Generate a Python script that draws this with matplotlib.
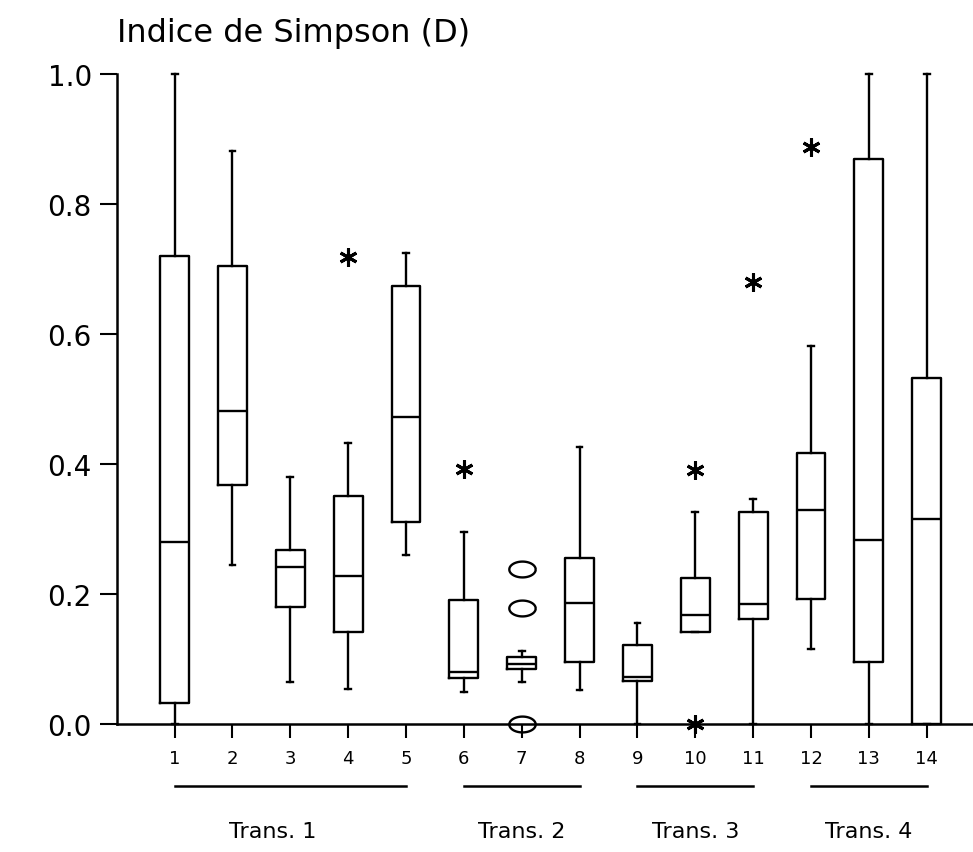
import numpy as np
import matplotlib
matplotlib.use("Agg")
import matplotlib.pyplot as plt

# box statistics (14 sampling sites)
sites = np.arange(1, 15)
whis_hi = [1.0, 0.882, 0.380, 0.432, 0.724, 0.296, 0.112, 0.427, 0.155, 0.326, 0.347, 0.581, 1.0, 1.0]
q3 = [0.720, 0.704, 0.268, 0.351, 0.674, 0.191, 0.103, 0.256, 0.121, 0.224, 0.326, 0.417, 0.870, 0.532]
med = [0.280, 0.482, 0.242, 0.228, 0.472, 0.080, 0.092, 0.186, 0.072, 0.168, 0.185, 0.329, 0.283, 0.315]
q1 = [0.033, 0.368, 0.180, 0.141, 0.311, 0.071, 0.084, 0.095, 0.066, 0.142, 0.162, 0.192, 0.095, 0.0]
whis_lo = [0.0, 0.245, 0.064, 0.054, 0.260, 0.049, 0.064, 0.052, 0.0, 0.142, 0.0, 0.115, 0.0, 0.0]

# extreme values (*) and outliers (o)
star_x = [4, 6, 10, 10, 11, 12]
star_y = [0.719, 0.393, 0.391, 0.0, 0.680, 0.888]
circ_x = [7, 7, 7]
circ_y = [0.238, 0.178, 0.0]

groups = ["Trans. 1", "Trans. 2", "Trans. 3", "Trans. 4"]
group_start = [1, 6, 9, 12]
group_end = [5, 8, 11, 14]
group_label_x = [2.7, 7, 10, 13]

stats = []
for i in range(len(sites)):
    stats.append(dict(med=med[i], q1=q1[i], q3=q3[i],
                      whislo=whis_lo[i], whishi=whis_hi[i], fliers=[]))

fig = plt.figure(figsize=(9.73, 8.53), dpi=100)
ax = fig.add_axes([0.120, 0.150, 0.880, 0.762])

lw = 1.7
bp = ax.bxp(stats, positions=sites, widths=0.5, showfliers=False,
            boxprops=dict(color="black", linewidth=lw),
            medianprops=dict(color="black", linewidth=lw),
            whiskerprops=dict(color="black", linewidth=lw),
            capprops=dict(color="black", linewidth=lw),
            capwidths=0.1, manage_ticks=False)
for k in bp:
    for a in bp[k]:
        a.set_clip_on(False)

# asterisk marker (6 spokes)
ax.plot(star_x, star_y, ls="none", marker=(6, 2, 0), ms=13, color="black",
        mew=2.2, clip_on=False, zorder=5)
t = np.linspace(0, 2 * np.pi, 60)
ellipse = np.c_[np.cos(t), 0.6 * np.sin(t)]
ax.plot(circ_x, circ_y, ls="none", marker=ellipse, ms=19, mfc="none",
        mec="black", mew=1.7, clip_on=False, zorder=5)

ax.set_xlim(0, 14.8)
ax.set_ylim(0, 1.0)
ax.set_xticks(sites)
ax.set_xticklabels([str(s) for s in sites], fontsize=13)
ax.set_yticks([0.0, 0.2, 0.4, 0.6, 0.8, 1.0])
ax.set_yticklabels(["0.0", "0.2", "0.4", "0.6", "0.8", "1.0"], fontsize=20)
ax.tick_params(axis="x", direction="out", length=10, width=1.5, pad=8)
ax.tick_params(axis="y", direction="out", length=12, width=1.5, pad=6)
for s in ["top", "right"]:
    ax.spines[s].set_visible(False)
for s in ["left", "bottom"]:
    ax.spines[s].set_linewidth(1.8)

ax.text(0.0, 1.04, "Indice de Simpson (D)", transform=ax.transAxes,
        fontsize=23, ha="left", va="bottom")

trans = ax.get_xaxis_transform()
for name, a, b, lx in zip(groups, group_start, group_end, group_label_x):
    ax.plot([a, b], [-0.095, -0.095], color="black", lw=1.8,
            transform=trans, clip_on=False)
    ax.text(lx, -0.165, name, transform=trans, ha="center", va="center",
            fontsize=16)

fig.savefig("out.png", dpi=100)
